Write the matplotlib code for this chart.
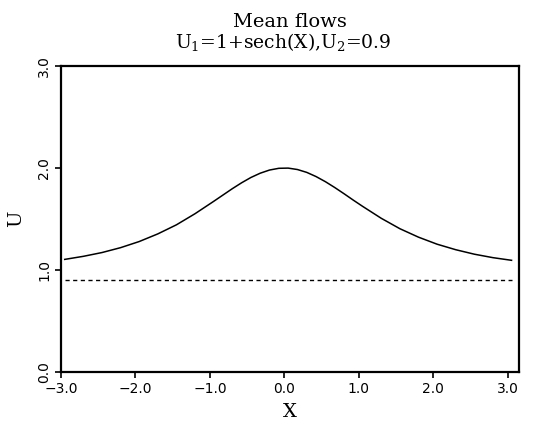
import matplotlib
matplotlib.use("Agg")
import matplotlib.pyplot as plt

# Values
x_u1 = [-2.95, -2.70, -2.45, -2.20, -1.95, -1.70, -1.45, -1.20, -0.95, -0.825,
        -0.70, -0.575, -0.45, -0.325, -0.20, -0.075, 0.05, 0.175, 0.30, 0.425,
        0.55, 0.675, 0.80, 0.925, 1.05, 1.30, 1.55, 1.80,
        2.05, 2.30, 2.55, 2.80, 3.05]
u1 = [1.104, 1.134, 1.171, 1.219, 1.279, 1.354, 1.443, 1.552, 1.673, 1.735,
      1.797, 1.855, 1.907, 1.949, 1.980, 1.997, 1.999, 1.985, 1.957, 1.916,
      1.866, 1.809, 1.748, 1.685, 1.624, 1.507, 1.405, 1.322,
      1.253, 1.199, 1.155, 1.121, 1.095]
x_u2 = [-2.95, 3.05]
u2 = [0.9, 0.9]

xticks = [-3.0, -2.0, -1.0, 0.0, 1.0, 2.0, 3.0]
xticklabels = ["\u22123.0", "\u22122.0", "\u22121.0", "0.0", "1.0", "2.0", "3.0"]
yticks = [0.0, 1.0, 2.0, 3.0]
yticklabels = ["0.0", "1.0", "2.0", "3.0"]

plt.rcParams['mathtext.fontset'] = 'dejavuserif'
fig = plt.figure(figsize=(5.35, 4.22), dpi=100)
ax = fig.add_axes([61/535, 50/422, (519-61)/535, (372-66)/422])

ax.plot(x_u1, u1, color='black', lw=1.1)
ax.plot(x_u2, u2, color='black', lw=1.0, ls=(0, (3, 2.5)))

ax.set_xlim(-3.0, 3.15)
ax.set_ylim(0.0, 3.0)
ax.set_xticks(xticks)
ax.set_xticklabels(xticklabels, fontsize=10, family='DejaVu Sans', weight='medium')
ax.set_yticks(yticks)
ax.set_yticklabels(yticklabels, fontsize=10, family='DejaVu Sans', weight='medium',
                   rotation=90, va='center')
ax.tick_params(direction='out', length=4, width=1.2, pad=3)
for s in ax.spines.values():
    s.set_linewidth(1.6)

ax.set_xlabel("X", fontsize=14, family='DejaVu Serif', labelpad=5)
ax.set_ylabel("U", fontsize=14, family='DejaVu Serif', labelpad=9)
fig.text(290/535, 1 - 22/422, "Mean flows", fontsize=14, family='DejaVu Serif',
         ha='center', va='center')
fig.text(283/535, 1 - 42/422, "U$_1$=1+sech(X),U$_2$=0.9", fontsize=13.5,
         family='DejaVu Serif', ha='center', va='center')

fig.savefig("out.png", dpi=100)
